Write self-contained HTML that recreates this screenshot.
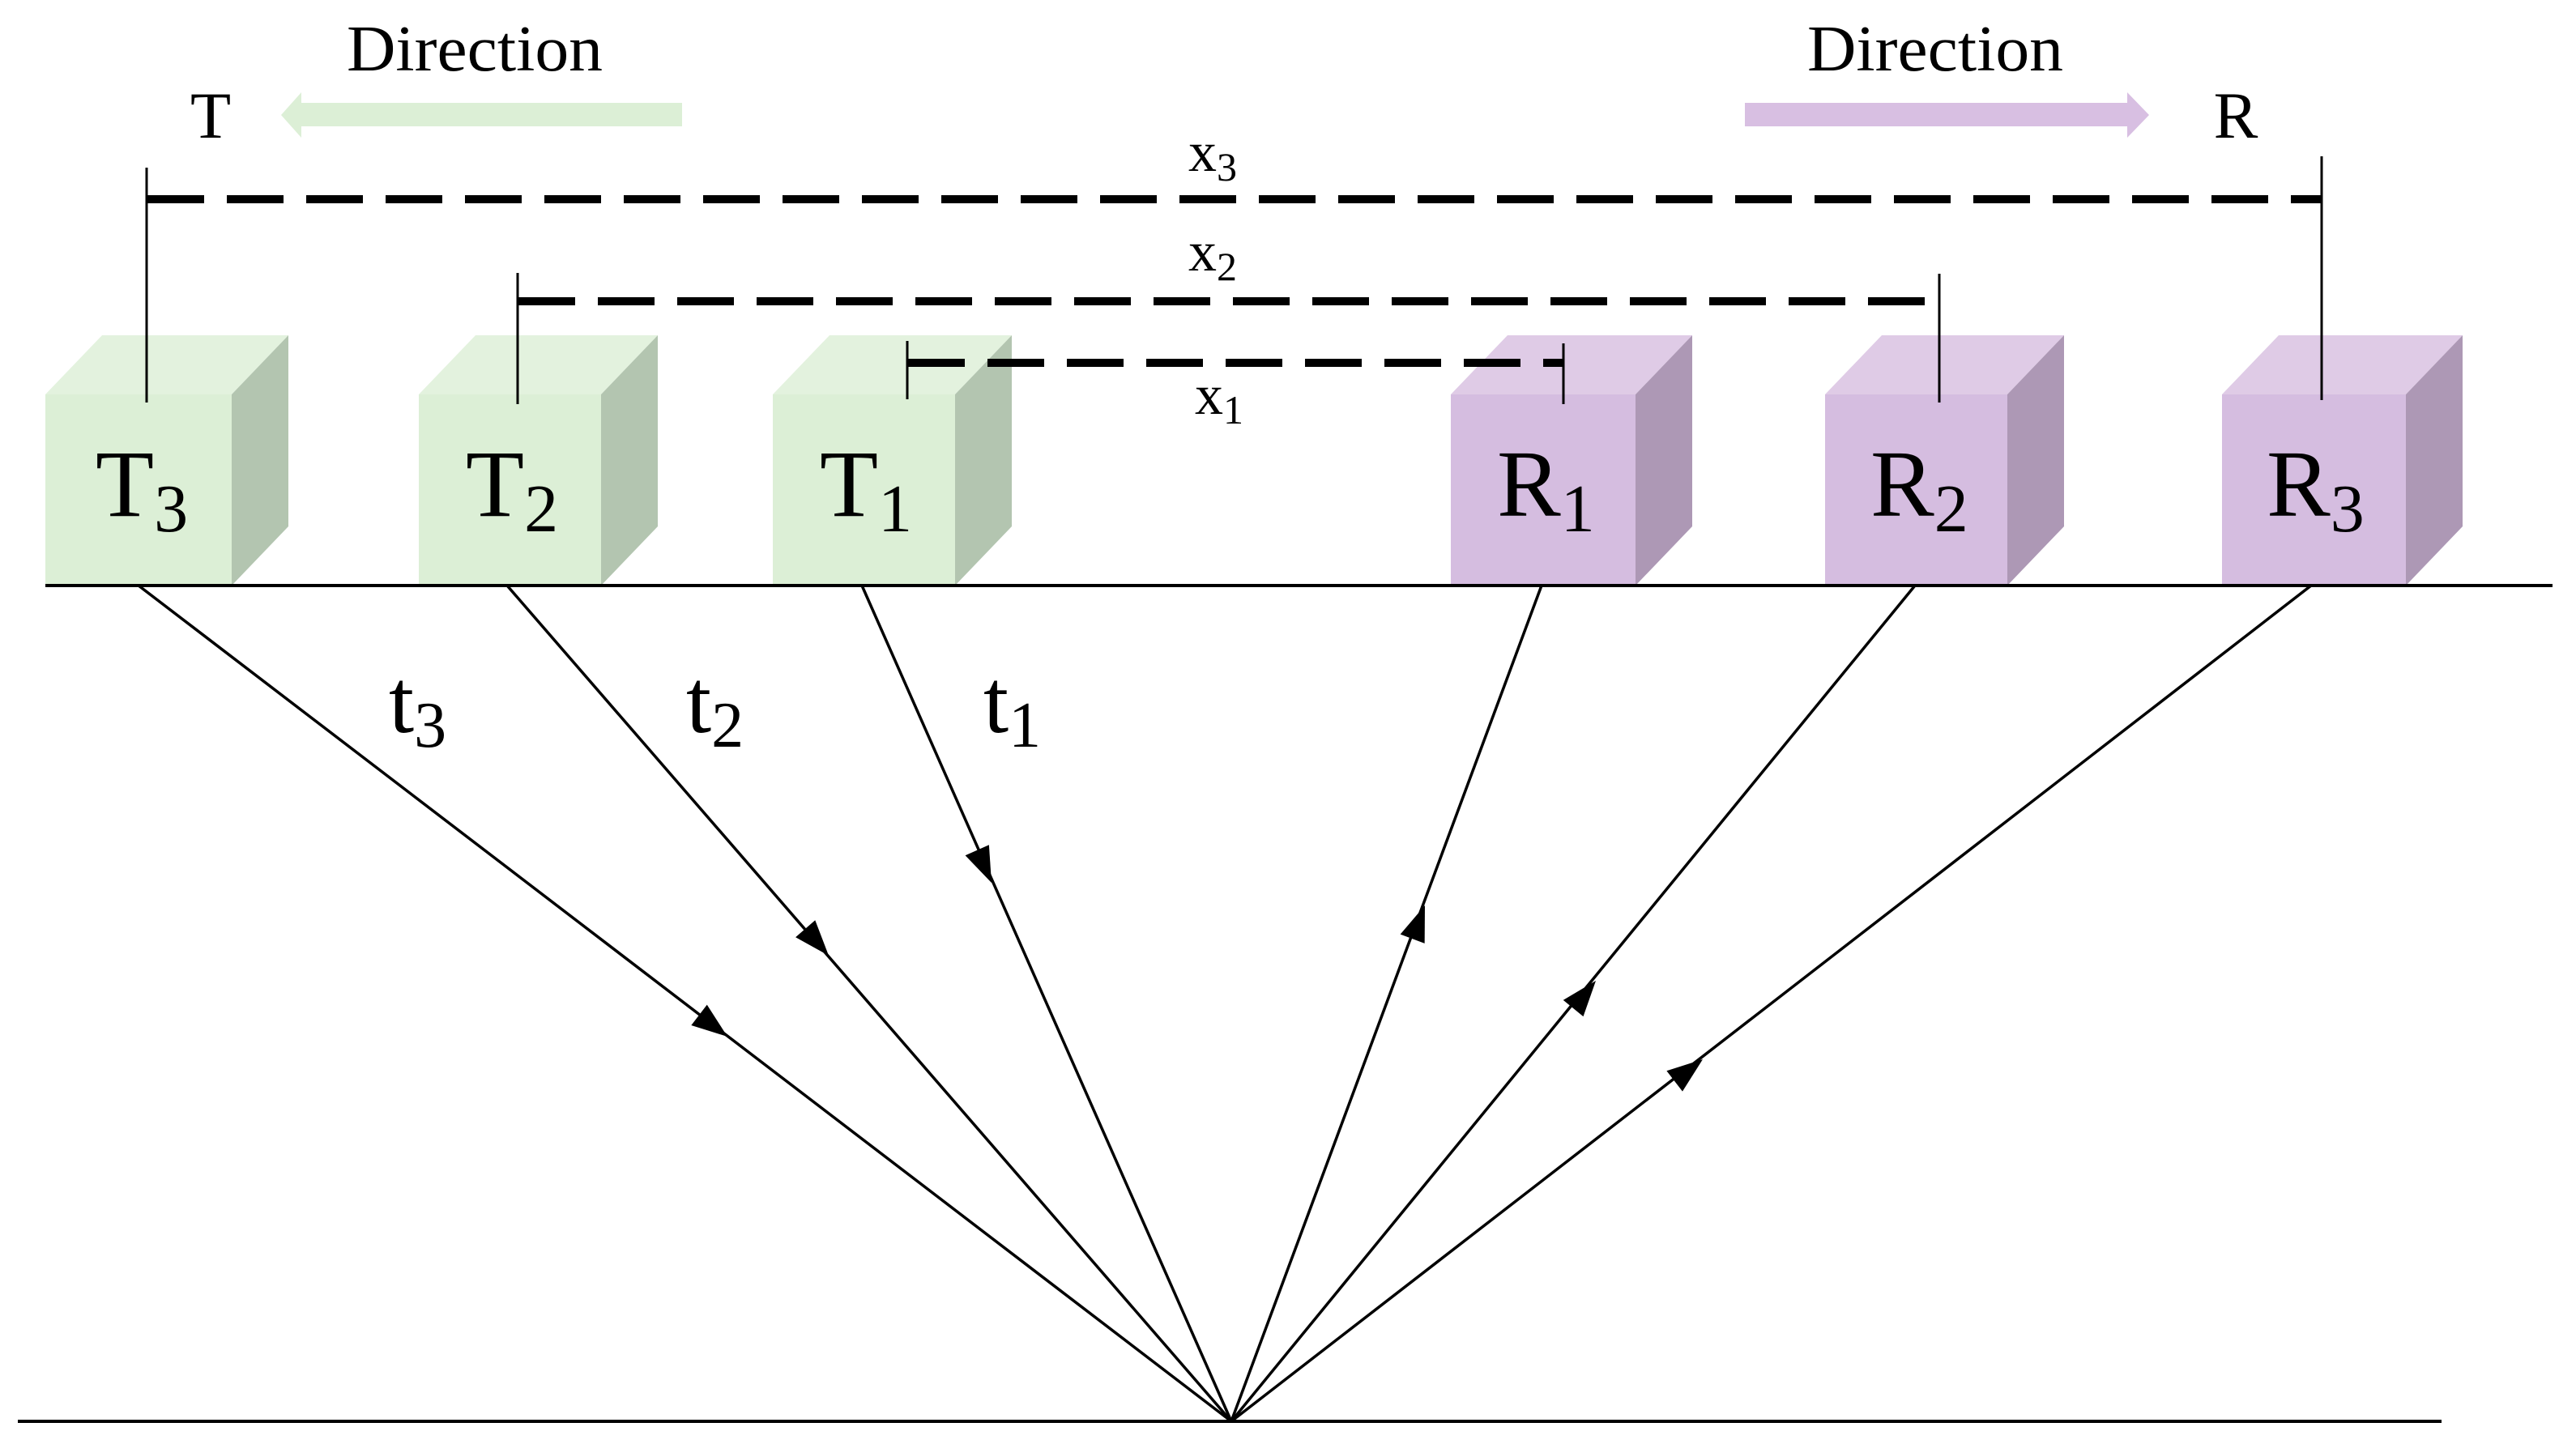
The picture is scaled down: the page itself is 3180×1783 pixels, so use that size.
<!DOCTYPE html>
<html><head><meta charset="utf-8"><style>
html,body{margin:0;padding:0;background:#fff;}
svg{display:block;}
text{font-family:"Liberation Serif",serif;fill:#000;}
</style></head><body>
<svg width="3180" height="1783" viewBox="0 0 3180 1783" xmlns="http://www.w3.org/2000/svg">
<!-- direction arrows -->
<polygon points="347,142 372,114 372,127 842,127 842,156 372,156 372,170" fill="#dcefd6"/>
<polygon points="2154,127 2626,127 2626,114 2653,142 2626,170 2626,156 2154,156" fill="#d8bfe2"/>
<text x="586" y="87" font-size="80" text-anchor="middle" textLength="316" lengthAdjust="spacingAndGlyphs">Direction</text>
<text x="2389" y="87" font-size="80" text-anchor="middle" textLength="316" lengthAdjust="spacingAndGlyphs">Direction</text>
<text x="260" y="170" font-size="82" text-anchor="middle">T</text>
<text x="2760" y="170" font-size="82" text-anchor="middle">R</text>

<!-- boxes -->
<g fill="#dcefd6">
<polygon points="56,487 286,487 356,414 126,414" fill="#e3f2de"/>
<polygon points="286,487 356,414 356,650 286,723" fill="#b3c5b0"/>
<rect x="56" y="487" width="230" height="236"/>
<polygon points="517,487 742,487 812,414 587,414" fill="#e3f2de"/>
<polygon points="742,487 812,414 812,650 742,723" fill="#b3c5b0"/>
<rect x="517" y="487" width="225" height="236"/>
<polygon points="954,487 1179,487 1249,414 1024,414" fill="#e3f2de"/>
<polygon points="1179,487 1249,414 1249,650 1179,723" fill="#b3c5b0"/>
<rect x="954" y="487" width="225" height="236"/>
</g>
<g fill="#d5bde0">
<polygon points="1791,487 2019,487 2089,414 1861,414" fill="#dfcbe6"/>
<polygon points="2019,487 2089,414 2089,650 2019,723" fill="#ad98b5"/>
<rect x="1791" y="487" width="228" height="236"/>
<polygon points="2253,487 2478,487 2548,414 2323,414" fill="#dfcbe6"/>
<polygon points="2478,487 2548,414 2548,650 2478,723" fill="#ad98b5"/>
<rect x="2253" y="487" width="225" height="236"/>
<polygon points="2743,487 2970,487 3040,414 2813,414" fill="#dfcbe6"/>
<polygon points="2970,487 3040,414 3040,650 2970,723" fill="#ad98b5"/>
<rect x="2743" y="487" width="227" height="236"/>
</g>
<g font-size="118">
<text x="118" y="637">T<tspan font-size="84" dy="19">3</tspan></text>
<text x="575" y="637">T<tspan font-size="84" dy="19">2</tspan></text>
<text x="1012" y="637">T<tspan font-size="84" dy="19">1</tspan></text>
<text x="1848" y="637">R<tspan font-size="84" dy="19">1</tspan></text>
<text x="2309" y="637">R<tspan font-size="84" dy="19">2</tspan></text>
<text x="2798" y="637">R<tspan font-size="84" dy="19">3</tspan></text>
</g>

<!-- dimension lines -->
<g stroke="#000" stroke-width="3">
<line x1="181" y1="207" x2="181" y2="497"/>
<line x1="639" y1="337" x2="639" y2="499"/>
<line x1="1120" y1="421" x2="1120" y2="493"/>
<line x1="2866" y1="193" x2="2866" y2="494"/>
<line x1="2394" y1="338" x2="2394" y2="497"/>
<line x1="1930" y1="424" x2="1930" y2="499"/>
</g>
<g stroke="#000" stroke-width="10" stroke-dasharray="70 28">
<line x1="182" y1="246" x2="2866" y2="246"/>
<line x1="640" y1="372" x2="2381" y2="372"/>
<line x1="1121" y1="448" x2="1930" y2="448"/>
</g>
<g font-size="70">
<text x="1467" y="211">x<tspan font-size="50" dy="12">3</tspan></text>
<text x="1467" y="334">x<tspan font-size="50" dy="12">2</tspan></text>
<text x="1475" y="511">x<tspan font-size="50" dy="12">1</tspan></text>
</g>

<!-- ground lines -->
<line x1="56" y1="723" x2="3151" y2="723" stroke="#000" stroke-width="4"/>
<line x1="22" y1="1755" x2="3014" y2="1755" stroke="#000" stroke-width="4"/>

<!-- rays -->
<g stroke="#000" stroke-width="3.5" fill="none">
<line x1="171" y1="723" x2="1520" y2="1755"/>
<line x1="626" y1="723" x2="1520" y2="1755"/>
<line x1="1064" y1="723" x2="1520" y2="1755"/>
<line x1="1903" y1="723" x2="1520" y2="1755"/>
<line x1="2364" y1="723" x2="1520" y2="1755"/>
<line x1="2853" y1="723" x2="1520" y2="1755"/>
</g>
<g fill="#000">
<polygon points="0,0 -44,-16 -44,16" transform="translate(898,1280) rotate(37.4)"/>
<polygon points="0,0 -44,-16 -44,16" transform="translate(1023,1180) rotate(49.1)"/>
<polygon points="0,0 -44,-16 -44,16" transform="translate(1224,1090) rotate(66.2)"/>
<polygon points="0,0 -44,-16 -44,16" transform="translate(1759,1118) rotate(-69.6)"/>
<polygon points="0,0 -44,-16 -44,16" transform="translate(1970,1211) rotate(-50.7)"/>
<polygon points="0,0 -44,-16 -44,16" transform="translate(2102,1308) rotate(-37.7)"/>
</g>
<g font-size="112">
<text x="480" y="904">t<tspan font-size="80" dy="18">3</tspan></text>
<text x="847" y="904">t<tspan font-size="80" dy="18">2</tspan></text>
<text x="1214" y="904">t<tspan font-size="80" dy="18">1</tspan></text>
</g>
</svg>
</body></html>
